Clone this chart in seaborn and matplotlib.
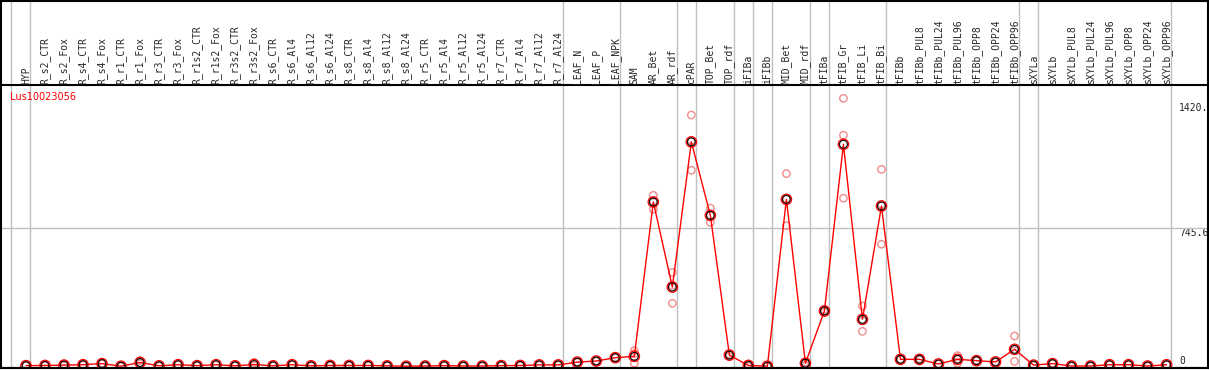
import numpy as np
import pandas as pd
import seaborn as sns
import matplotlib
matplotlib.use('Agg')
import matplotlib.pyplot as plt

# sample names along the x axis
samples = ['HYP', 'R_s2_CTR', 'R_s2_Fox', 'R_s4_CTR', 'R_s4_Fox', 'R_r1_CTR', 'R_r1_Fox',
           'R_r3_CTR', 'R_r3_Fox', 'R_r1s2_CTR', 'R_r1s2_Fox', 'R_r3s2_CTR', 'R_r3s2_Fox',
           'R_s6_CTR', 'R_s6_Al4', 'R_s6_Al12', 'R_s6_Al24', 'R_s8_CTR', 'R_s8_Al4', 'R_s8_Al12',
           'R_s8_Al24', 'R_r5_CTR', 'R_r5_Al4', 'R_r5_Al12', 'R_r5_Al24', 'R_r7_CTR', 'R_r7_Al4',
           'R_r7_Al12', 'R_r7_Al24', 'LEAF_N', 'LEAF_P', 'LEAF_NPK', 'SAM', 'AR_Bet', 'AR_rdf',
           'cPAR', 'TOP_Bet', 'TOP_rdf', 'iFIBa', 'iFIBb', 'MID_Bet', 'MID_rdf', 'tFIBa',
           'tFIB_Gr', 'tFIB_Li', 'tFIB_Bi', 'tFIBb', 'tFIBb_PUL8', 'tFIBb_PUL24', 'tFIBb_PUL96',
           'tFIBb_OPP8', 'tFIBb_OPP24', 'tFIBb_OPP96', 'sXYLa', 'sXYLb', 'sXYLb_PUL8',
           'sXYLb_PUL24', 'sXYLb_PUL96', 'sXYLb_OPP8', 'sXYLb_OPP24', 'sXYLb_OPP96']

# mean expression per sample
means = [3, 4, 6, 8, 14, 0, 20, 2, 8, 3, 8, 2, 9, 2, 8, 2, 4, 4, 4, 2,
         0, 1, 3, 1, 1, 3, 4, 7, 7, 22, 28, 46, 53, 886, 427, 1210, 814, 60, 4, 0,
         900, 16, 298, 1197, 253, 864, 37, 37, 12, 37, 30, 23, 91, 6, 14, 1,
         1, 8, 8, 1, 8]

# replicates
rep_a = [3, 4, 10, 10, 16, 0, 30, 2, 8, 3, 10, 2, 20, 2, 8, 2, 4, 4, 4, 2,
         0, 1, 3, 1, 1, 3, 4, 7, 7, 22, 28, 46, 84, 922, 506, 1355, 853, 64, 12, 0,
         1039, 23, 290, 1445, 325, 1062, 37, 40, 12, 57, 30, 23, 163, 6, 14, 1,
         1, 8, 8, 1, 8]
rep_b = [3, 4, 4, 7, 13, 0, 16, 2, 8, 3, 7, 2, 4, 2, 8, 2, 4, 4, 4, 2,
         0, 1, 3, 1, 1, 3, 4, 7, 7, 22, 28, 46, 68, 846, 339, 1057, 776, 52, 0, 0,
         758, 4, 298, 1246, 188, 658, 37, 35, 12, 16, 30, 23, 26, 6, 14, 1,
         1, 8, 8, 1, 8]
rep_c = [3, 4, 4, 7, 13, 0, 14, 2, 8, 3, 7, 2, 3, 2, 8, 2, 4, 4, 4, 2,
         0, 1, 3, 1, 1, 3, 4, 7, 7, 22, 28, 46, 16, 890, 436, 1218, 813, 64, 0, 0,
         903, 21, 306, 906, 246, 872, 37, 36, 12, 38, 30, 23, 84, 6, 14, 1,
         1, 8, 8, 1, 8]

# group borders drawn after these sample indices
group_ends = [-1, 0, 28, 31, 34, 35, 37, 38, 39, 41, 42, 45, 52, 53, 60]

gene = 'Lus10023056'
ytick_vals = [0, 745.6, 1420]
ytick_text = ['0', '745.6', '1420.']

xpos = np.arange(len(samples))
reps = pd.DataFrame({'x': np.tile(xpos, 3), 'y': rep_a + rep_b + rep_c})

sns.set_style('white')
plt.rcParams['font.family'] = ['DejaVu Sans']

fig = plt.figure(figsize=(12.09, 3.70), dpi=100)
ax = fig.add_axes([0, 2 / 370, 1, 283 / 370])

# group separators, reaching up through the label band
for g in group_ends:
    ax.axvline(g + 0.23, ymin=0, ymax=368 / 283, color='#c0c0c0', lw=1,
               clip_on=False, zorder=1)
ax.axhline(745.6, color='#c0c0c0', lw=1, zorder=1)

sns.scatterplot(data=reps, x='x', y='y', ax=ax, marker='o', s=28,
                facecolors='none', edgecolor='#f08c8c', linewidth=1, zorder=2)
sns.lineplot(x=xpos, y=means, ax=ax, color='red', lw=1, zorder=3)
sns.scatterplot(x=xpos, y=means, ax=ax, marker='o', s=56, facecolors='none',
                edgecolor='red', linewidth=0.9, zorder=4)
sns.scatterplot(x=xpos, y=means, ax=ax, marker='o', s=32, facecolors='none',
                edgecolor='black', linewidth=0.8, zorder=5)

ax.set_xlim(-26 / 19.01, 60 + (1209 - 1166.6) / 19.01)
ax.set_ylim(-9.7, 1517)
ax.set_xlabel('')
ax.set_ylabel('')
ax.set_xticks([])

# y labels sit inside the right margin
ax.yaxis.tick_right()
ax.set_yticks(ytick_vals)
ax.set_yticklabels(ytick_text, family='DejaVu Sans Mono', fontsize=7)
ax.tick_params(axis='y', length=0, pad=-21.6)
for lab in ax.get_yticklabels():
    lab.set_horizontalalignment('left')
    lab.set_verticalalignment('bottom' if lab.get_text() == '0' else 'top')

for sp in ax.spines.values():
    sp.set_color('black')
    sp.set_linewidth(1.5)

# sample names, rotated above the plot
for i, name in enumerate(samples):
    ax.text(i, 1 + 1.5 / 283, name, rotation=90, ha='center', va='bottom',
            family='DejaVu Sans Mono', fontsize=7,
            transform=ax.get_xaxis_transform(), clip_on=False)

ax.text(10 / 1209, (368 - 92) / 283, gene, color='red', fontsize=7,
        ha='left', va='top', transform=ax.transAxes)

fig.add_artist(plt.Rectangle((0.5 / 1209, 2 / 370), 1207.5 / 1209, 367.5 / 370,
                             transform=fig.transFigure, fill=False,
                             edgecolor='black', lw=1.5))

fig.savefig('out.png', dpi=100)
